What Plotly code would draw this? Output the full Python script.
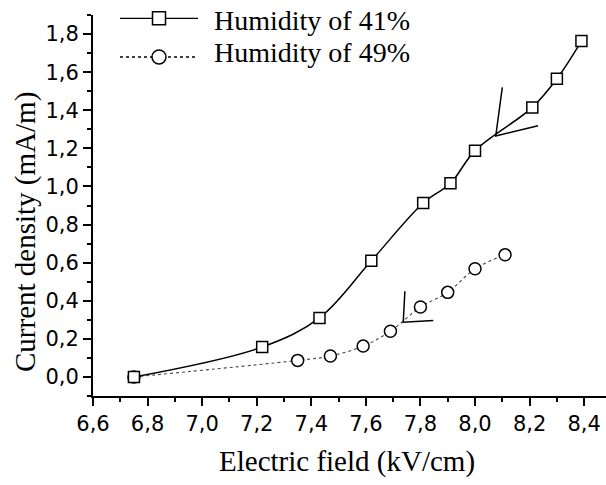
import plotly.graph_objects as go

# Data
field_41 = [6.75, 7.22, 7.43, 7.62, 7.81, 7.91, 8.00, 8.21, 8.30, 8.39]
current_41 = [0.00, 0.157, 0.31, 0.61, 0.913, 1.017, 1.188, 1.415, 1.565, 1.763]

field_49 = [6.75, 7.35, 7.47, 7.59, 7.69, 7.80, 7.90, 8.00, 8.11]
current_49 = [0.00, 0.087, 0.11, 0.162, 0.24, 0.367, 0.444, 0.568, 0.641]

# V-shaped arrow annotations (data coordinates: arm end, tip, arm end)
arrow1_x = [8.10, 8.076, 8.231]
arrow1_y = [1.52, 1.265, 1.319]
arrow2_x = [7.743, 7.737, 7.847]
arrow2_y = [0.45, 0.2875, 0.296]

labels = ["Humidity of 41%", "Humidity of 49%"]
x_ticks = [6.6, 6.8, 7.0, 7.2, 7.4, 7.6, 7.8, 8.0, 8.2, 8.4]
y_ticks = [0.0, 0.2, 0.4, 0.6, 0.8, 1.0, 1.2, 1.4, 1.6, 1.8]

fig = go.Figure()

fig.add_trace(go.Scatter(
    x=field_49, y=current_49, mode="lines+markers", name=labels[1],
    line=dict(color="#444444", width=1.1, dash="dot", shape="spline"),
    marker=dict(symbol="circle", size=12, color="white",
                line=dict(color="black", width=1.5)),
    showlegend=False))

fig.add_trace(go.Scatter(
    x=field_41, y=current_41, mode="lines+markers", name=labels[0],
    line=dict(color="black", width=1.5, shape="spline"),
    marker=dict(symbol="square", size=11, color="white",
                line=dict(color="black", width=1.5)),
    showlegend=False))

for ax_, ay_ in [(arrow1_x, arrow1_y), (arrow2_x, arrow2_y)]:
    fig.add_trace(go.Scatter(x=ax_, y=ay_, mode="lines",
                             line=dict(color="black", width=1.5),
                             showlegend=False, hoverinfo="skip"))

# Manual legend (paper coordinates)
W, H = 513.0, 381.0
def px(xp):
    return (xp - 93) / W
def py(yp):
    return (396 - yp) / H

shapes = []
for ly in (18.3, 57):
    shapes.append(dict(type="line", xref="paper", yref="paper",
                       x0=px(120), x1=px(198), y0=py(ly), y1=py(ly),
                       line=dict(color="black", width=1.3,
                                 dash="solid" if ly < 30 else "dot")))
shapes.append(dict(type="rect", xref="paper", yref="paper",
                   x0=px(152.5), x1=px(165.5), y0=py(24.8), y1=py(11.8),
                   line=dict(color="black", width=1.5), fillcolor="white"))
shapes.append(dict(type="circle", xref="paper", yref="paper",
                   x0=px(152), x1=px(166), y0=py(64), y1=py(50),
                   line=dict(color="black", width=1.5), fillcolor="white"))

serif = "Liberation Serif, Times New Roman, serif"
annotations = [
    dict(text=labels[0], xref="paper", yref="paper", x=px(212), y=py(21),
         xanchor="left", yanchor="middle", showarrow=False,
         font=dict(family=serif, size=28, color="black")),
    dict(text=labels[1], xref="paper", yref="paper", x=px(212), y=py(52),
         xanchor="left", yanchor="middle", showarrow=False,
         font=dict(family=serif, size=28, color="black")),
    dict(text="Electric field (kV/cm)", xref="paper", yref="paper",
         x=px(347), y=py(462), xanchor="center", yanchor="middle",
         showarrow=False, font=dict(family=serif, size=29, color="black")),
    dict(text="Current density (mA/m)", xref="paper", yref="paper",
         x=px(26), y=py(232), xanchor="center", yanchor="middle",
         textangle=-90, showarrow=False,
         font=dict(family=serif, size=29, color="black")),
]

tickfont = dict(family="DejaVu Sans, Arial, sans-serif", size=21, color="black")

fig.update_layout(
    width=606, height=485,
    margin=dict(l=93, r=0, t=15, b=89),
    paper_bgcolor="white", plot_bgcolor="white",
    separators=",.",
    shapes=shapes, annotations=annotations,
    xaxis=dict(range=[6.6, 8.48], tickvals=x_ticks, tickformat=".1f",
               showgrid=False, zeroline=False, showline=True,
               linecolor="black", linewidth=2, ticks="outside",
               ticklen=8, tickwidth=2, tickcolor="black", tickfont=tickfont,
               minor=dict(dtick=0.1, tick0=6.6, ticks="outside", ticklen=4,
                          tickwidth=1.5, tickcolor="black", showgrid=False)),
    yaxis=dict(range=[-0.1, 1.9], tickvals=y_ticks, tickformat=".1f",
               showgrid=False, zeroline=False, showline=True,
               linecolor="black", linewidth=2, ticks="outside",
               ticklen=8, tickwidth=2, tickcolor="black", tickfont=tickfont,
               minor=dict(dtick=0.1, tick0=0, ticks="outside", ticklen=4,
                          tickwidth=1.5, tickcolor="black", showgrid=False)),
)

fig.write_html("out.html")
